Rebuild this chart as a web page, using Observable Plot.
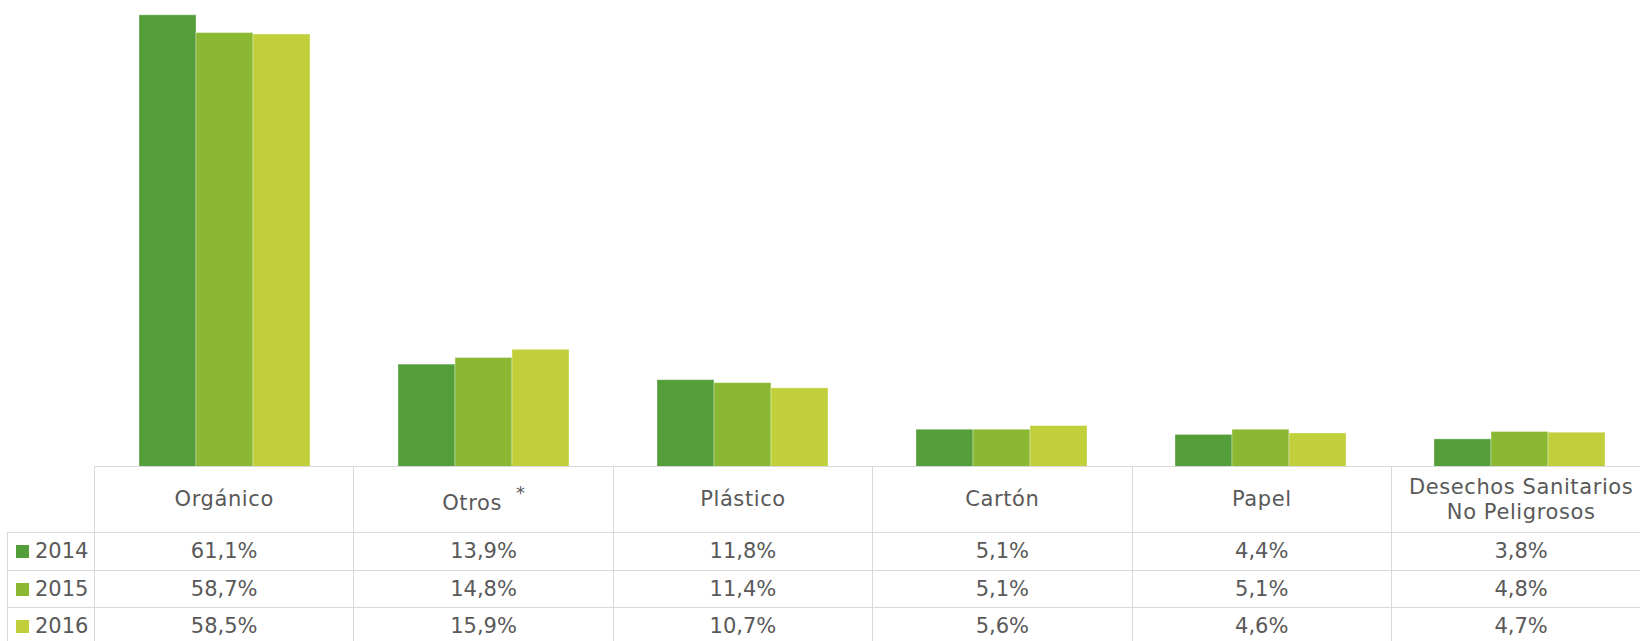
<!DOCTYPE html>
<html>
<head>
<meta charset="utf-8">
<script src="https://cdn.jsdelivr.net/npm/d3@7"></script>
<script src="https://cdn.jsdelivr.net/npm/@observablehq/plot@0.6"></script>
<style>
  html, body { margin: 0; padding: 0; overflow: hidden; background: #fff; width: 1640px; height: 641px; }
  #wrap { position: relative; width: 1640px; height: 641px; overflow: hidden; }
  #chart { position: absolute; left: 0; top: 0; width: 1651px; }
  #chart svg { max-width: none !important; }
  table { position: absolute; left: 7px; top: 466px; width: 1643.4px; border-collapse: collapse; table-layout: fixed;
          font-family: "DejaVu Sans", sans-serif; font-size: 21px; color: #595959; }
  td { border: 1.5px solid #d9d9d9; text-align: center; padding: 0; white-space: nowrap; }
  tr.head td { height: 65px; line-height: 25px; }
  tr.head td span.lbl { letter-spacing: 0.6px; }
  tr.row td { height: 36.5px; }
  td.blank { border: none; }
  td.leg { text-align: left; padding-left: 8px; }
  .sw { display: inline-block; width: 13px; height: 13px; margin-right: 6px; vertical-align: 0px; }
  sup { font-size: 18px; position: relative; top: -3px; margin-left: 14px; }
</style>
</head>
<body>
<div id="wrap">
  <div id="chart"></div>
</div>
<script>
const categories = ["Orgánico", "Otros", "Plástico", "Cartón", "Papel", "Desechos Sanitarios No Peligrosos"];
const headerLabels = ["Orgánico", "Otros *", "Plástico", "Cartón", "Papel", "Desechos Sanitarios\nNo Peligrosos"];
const years = ["2014", "2015", "2016"];
const values2014 = [61.1, 13.9, 11.8, 5.1, 4.4, 3.8];
const values2015 = [58.7, 14.8, 11.4, 5.1, 5.1, 4.8];
const values2016 = [58.5, 15.9, 10.7, 5.6, 4.6, 4.7];
const colors = ["#549E39", "#8AB833", "#C0CF3A"];

const series = [values2014, values2015, values2016];
const data = [];
years.forEach((yr, j) => categories.forEach((c, i) => data.push({cat: c, year: yr, value: series[j][i]})));

const chart = Plot.plot({
  width: 1651,
  height: 467,
  marginLeft: 94,
  marginRight: 1,
  marginTop: 0,
  marginBottom: 0,
  style: {maxWidth: "none"},
  fx: {domain: categories, padding: 0, axis: null, label: null},
  x: {domain: years, paddingInner: 0, paddingOuter: 0.75, axis: null},
  y: {domain: [0, 63.1], axis: null},
  color: {domain: years, range: colors},
  marks: [
    Plot.barY(data, {fx: "cat", x: "year", y: "value", fill: "year", stroke: "#ffffff", strokeOpacity: 0.35, strokeWidth: 1})
  ]
});
document.getElementById("chart").appendChild(chart);

// data table below
const fmt = v => v.toFixed(1).replace(".", ",") + "%";
const table = d3.select("#wrap").append("table");
const cg = table.append("colgroup");
cg.append("col").style("width", "87px");
categories.forEach(() => cg.append("col").style("width", "259.4px"));
const head = table.append("tr").attr("class", "head");
head.append("td").attr("class", "blank");
headerLabels.forEach(h => {
  const td = head.append("td");
  if (h.includes("*")) {
    td.append("span").attr("class", "lbl").text(h.replace(" *", ""));
    td.append("sup").text("*");
  } else {
    const lines = h.split("\n");
    lines.forEach((l, k) => { if (k) td.append("br"); td.append("span").attr("class", "lbl").text(l); });
  }
});
years.forEach((yr, j) => {
  const tr = table.append("tr").attr("class", "row");
  const leg = tr.append("td").attr("class", "leg");
  leg.append("span").attr("class", "sw").style("background", colors[j]);
  leg.append("span").text(yr);
  series[j].forEach(v => tr.append("td").text(fmt(v)));
});
</script>
</body>
</html>
